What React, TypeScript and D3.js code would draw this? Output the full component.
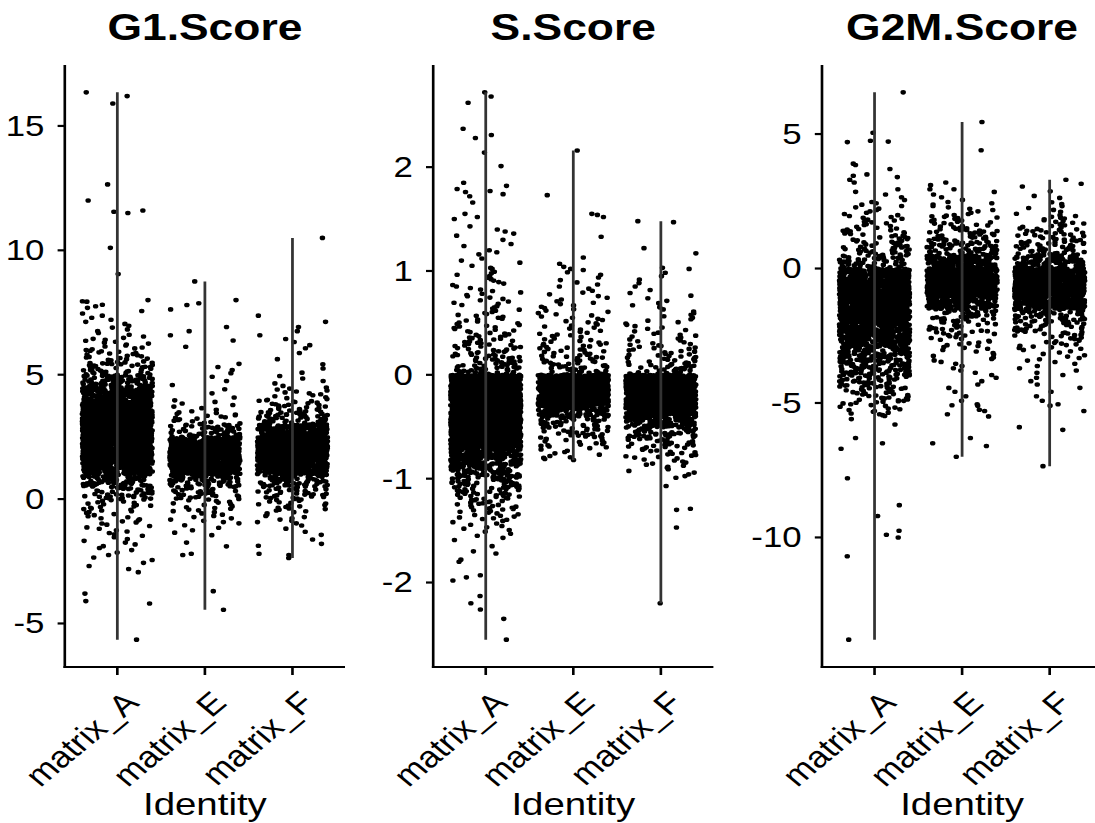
import React from "react";
import * as d3 from "d3";

// Cell identities on the x axis of every panel
const groups = ["matrix_A", "matrix_E", "matrix_F"];

// ---- G1.Score: histogram bins (width 0.5 starting at -3) + isolated cells ----
const g1BinStart = -3;
const g1BinWidth = 0.5;
const g1CountsA = [4, 5, 7, 9, 12, 18, 40, 75, 160, 350, 380, 380, 350, 300, 170, 90, 40, 22, 13, 7, 6, 4];
const g1CountsE = [0, 1, 1, 5, 10, 16, 30, 70, 300, 380, 200, 50, 18, 8, 3, 3, 4, 0, 2, 3, 0, 2];
const g1CountsF = [0, 1, 2, 4, 10, 18, 32, 70, 260, 380, 360, 220, 55, 28, 13, 5, 3, 2, 4, 3, 2, 0];
const g1ExtraA = [16.35, 16.2, 15.9, 12.65, 12.0, 11.6, 11.55, 11.5, 10.1, 9.05, 8.0, 7.95, 7.75, -3.8, -4.1, -4.2, -5.65];
const g1ExtraE = [8.75, 8.0, 7.8, -1.9, -2.2, -3.7, -4.45];
const g1ExtraF = [10.5, -1.8, -2.2, -2.37];
const g1Ticks = [-5, 0, 5, 10, 15];

// ---- S.Score: histogram bins (width 0.1 starting at -1.6) + isolated cells ----
const sBinStart = -1.6;
const sBinWidth = 0.1;
const sCountsA = [5, 8, 13, 18, 26, 38, 60, 90, 140, 250, 320, 340, 340, 340, 340, 320, 35, 26, 20, 16, 13, 11, 9, 8, 7, 7];
const sCountsE = [0, 0, 0, 0, 0, 0, 0, 0, 8, 16, 24, 36, 90, 300, 340, 320, 32, 22, 17, 13, 10, 9, 8, 6, 5, 4];
const sCountsF = [0, 0, 0, 0, 0, 0, 6, 10, 16, 26, 45, 100, 290, 340, 340, 320, 28, 19, 15, 11, 8, 7, 5, 4, 3, 3];
const sExtraA = [
  2.72, 2.68, 2.62, 2.37, 2.31, 2.28, 2.14, 2.01, 1.85, 1.82, 1.79, 1.77, 1.76, 1.74, 1.72, 1.66, 1.55, 1.52,
  1.5, 1.43, 1.4, 1.38, 1.36, 1.34, 1.3, 1.26, 1.24, 1.2, 1.18, 1.16, 1.12, 1.1, 1.08, 1.05, 1.03, 1.02,
  -1.65, -1.7, -1.72, -1.78, -1.8, -1.93, -1.95, -1.98, -2.13, -2.2, -2.26, -2.35, -2.55,
];
const sExtraE = [2.16, 1.73, 1.55, 1.54, 1.52, 1.33, 1.13, 1.07, 1.04, 1.02, 1.01, -0.82, -0.81, -0.8];
const sExtraF = [1.48, 1.47, 1.22, 1.17, 1.03, 1.02, -1.07, -1.29, -1.3, -1.47, -2.2];
const sTicks = [-2, -1, 0, 1, 2];

// ---- G2M.Score: histogram bins (width 0.5 starting at -5.5) + isolated cells ----
const g2mBinStart = -5.5;
const g2mBinWidth = 0.5;
const g2mCountsA = [16, 28, 46, 70, 100, 140, 200, 360, 380, 380, 250, 50, 35, 24, 15, 10, 5];
const g2mCountsE = [3, 3, 4, 6, 9, 15, 25, 45, 180, 380, 380, 150, 60, 35, 22, 10, 5];
const g2mCountsF = [0, 3, 4, 6, 10, 18, 32, 60, 220, 380, 380, 90, 42, 28, 16, 7, 2];
const g2mExtraA = [
  6.55, 5.05, 4.75, 4.72, 4.7, 3.9, 3.85, 3.7, 3.5, 3.45, 3.4, 3.3, 3.2,
  -5.6, -5.8, -6.3, -6.5, -6.7, -7.8, -8.8, -9.2, -9.75, -9.9, -10.0, -10.7, -13.8,
];
const g2mExtraE = [5.45, 4.4, 3.2, 3.1, 2.95, -5.05, -5.1, -5.3, -5.5, -6.3, -6.5, -6.6, -7.0];
const g2mExtraF = [3.3, 3.15, 3.05, 2.7, -5.05, -5.1, -5.3, -5.9, -6.0, -7.35];
const g2mTicks = [-10, -5, 0, 5];

// Horizontal stretch of the whole figure
const SCALE_X = 1.2;
const PLOT_TOP = 65;
const PLOT_BOTTOM = 667;
const PANEL_WIDTH = 233.5;
const DOT_R = 2.3;
const FONT = "'Liberation Sans', Arial, Helvetica, sans-serif";

// Deterministic integer hash -> [0,1), used for horizontal jitter only
function jitterHash(n: number) {
  let x = n | 0;
  x = Math.imul(x ^ (x >>> 16), 0x45d9f3b);
  x = Math.imul(x ^ (x >>> 16), 0x45d9f3b);
  x = x ^ (x >>> 16);
  return (x >>> 0) / 4294967296;
}

type Cell = { v: number; u: number };

// Expand binned counts into per-cell scores spread evenly through each bin
function cellsFromBins(seed: number, start: number, width: number, counts: number[], extra: number[]): Cell[] {
  const out: Cell[] = [];
  let k = seed * 100000;
  counts.forEach((c, b) => {
    for (let j = 0; j < c; j++) {
      k++;
      out.push({ v: start + b * width + ((j + 0.5) / c) * width, u: jitterHash(k) });
    }
  });
  extra.forEach((v) => {
    k++;
    out.push({ v, u: jitterHash(k) });
  });
  return out;
}

type PanelDef = { title: string; left: number; ticks: number[]; cells: Cell[][] };

const panelDefs: PanelDef[] = [
  {
    title: "G1.Score",
    left: 54,
    ticks: g1Ticks,
    cells: [
      cellsFromBins(1, g1BinStart, g1BinWidth, g1CountsA, g1ExtraA),
      cellsFromBins(2, g1BinStart, g1BinWidth, g1CountsE, g1ExtraE),
      cellsFromBins(3, g1BinStart, g1BinWidth, g1CountsF, g1ExtraF),
    ],
  },
  {
    title: "S.Score",
    left: 361,
    ticks: sTicks,
    cells: [
      cellsFromBins(4, sBinStart, sBinWidth, sCountsA, sExtraA),
      cellsFromBins(5, sBinStart, sBinWidth, sCountsE, sExtraE),
      cellsFromBins(6, sBinStart, sBinWidth, sCountsF, sExtraF),
    ],
  },
  {
    title: "G2M.Score",
    left: 685,
    ticks: g2mTicks,
    cells: [
      cellsFromBins(7, g2mBinStart, g2mBinWidth, g2mCountsA, g2mExtraA),
      cellsFromBins(8, g2mBinStart, g2mBinWidth, g2mCountsE, g2mExtraE),
      cellsFromBins(9, g2mBinStart, g2mBinWidth, g2mCountsF, g2mExtraF),
    ],
  },
];

function Panel({ def }: { def: PanelDef }) {
  const all = def.cells.flat().map((c) => c.v);
  const [lo, hi] = d3.extent(all) as [number, number];
  const pad = (hi - lo) * 0.05;
  const y = d3.scaleLinear().domain([lo - pad, hi + pad]).range([PLOT_BOTTOM, PLOT_TOP]);
  const x = d3
    .scalePoint<string>()
    .domain(groups)
    .range([def.left, def.left + PANEL_WIDTH])
    .padding(0.6);
  const jitter = 0.4 * x.step();

  const dotPaths = def.cells.map((cells, gi) => {
    const cx0 = x(groups[gi]) as number;
    const p = d3.path();
    cells.forEach(({ v, u }) => {
      const cx = cx0 + (u * 2 - 1) * jitter;
      const cy = y(v);
      p.moveTo(cx + DOT_R, cy);
      p.arc(cx, cy, DOT_R, 0, Math.PI * 2);
    });
    return p.toString();
  });

  const cx = def.left + PANEL_WIDTH / 2;

  return (
    <g>
      <text x={cx} y={40} textAnchor="middle" fontFamily={FONT} fontWeight="bold" fontSize={37} fill="#000">
        {def.title}
      </text>
      {dotPaths.map((d, i) => (
        <path key={i} d={d} fill="#000" />
      ))}
      {def.cells.map((cells, gi) => {
        const [mn, mx] = d3.extent(cells, (c) => c.v) as [number, number];
        const gx = x(groups[gi]) as number;
        return <line key={gi} x1={gx} x2={gx} y1={y(mn)} y2={y(mx)} stroke="#333" strokeWidth={2.3} />;
      })}
      {/* axes */}
      <line x1={def.left} x2={def.left} y1={PLOT_TOP} y2={PLOT_BOTTOM + 1.1} stroke="#000" strokeWidth={2.2} />
      <line x1={def.left - 1.1} x2={def.left + PANEL_WIDTH} y1={PLOT_BOTTOM} y2={PLOT_BOTTOM} stroke="#000" strokeWidth={2.2} />
      {def.ticks.map((t) => (
        <g key={t}>
          <line x1={def.left - 6} x2={def.left} y1={y(t)} y2={y(t)} stroke="#000" strokeWidth={2.2} />
          <text
            x={def.left - 17}
            y={y(t)}
            textAnchor="end"
            dominantBaseline="central"
            fontFamily={FONT}
            fontSize={29}
            fill="#000"
          >
            {t}
          </text>
        </g>
      ))}
      {groups.map((g) => {
        const gx = x(g) as number;
        return (
          <g key={g}>
            <line x1={gx} x2={gx} y1={PLOT_BOTTOM} y2={PLOT_BOTTOM + 8} stroke="#000" strokeWidth={2.2} />
            <text
              transform={`translate(${gx + 12},${PLOT_BOTTOM + 30}) rotate(-45)`}
              textAnchor="end"
              dominantBaseline="central"
              fontFamily={FONT}
              fontSize={30}
              fill="#000"
            >
              {g}
            </text>
          </g>
        );
      })}
      <text x={cx} y={815} textAnchor="middle" fontFamily={FONT} fontSize={32} fill="#000">
        Identity
      </text>
    </g>
  );
}

export default function App() {
  return (
    <svg
      width={1095}
      height={823}
      style={{ position: "absolute", left: 0, top: 0, background: "#fff" }}
    >
      <rect width={1095} height={823} fill="#fff" />
      <g transform={`scale(${SCALE_X},1)`}>
        {panelDefs.map((p) => (
          <Panel key={p.title} def={p} />
        ))}
      </g>
    </svg>
  );
}
